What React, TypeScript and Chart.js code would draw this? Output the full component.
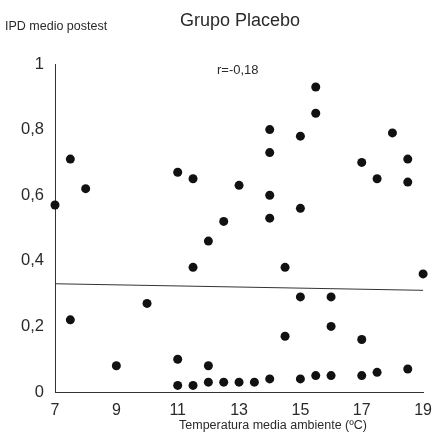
import React, { useEffect, useRef } from "react";
import { Chart, registerables } from "chart.js";

Chart.register(...registerables);

// ---- data ----
const chartTitle = "Grupo Placebo";
const yAxisTitle = "IPD medio postest";
const xAxisTitle = "Temperatura media ambiente (ºC)";
const corrLabel = "r=-0,18";

const pointX = [
  7, 7.5, 7.5, 8, 9, 10, 11, 11, 11.5, 11.5, 12, 12, 12.5, 13, 14, 14, 14, 14,
  14.5, 14.5, 15, 15, 15, 15.5, 15.5, 16, 16, 17, 17, 17.5, 18, 18.5, 18.5, 19,
  11, 11.5, 12, 12.5, 13, 13.5, 14, 15, 15.5, 16, 17, 17.5, 18.5,
];
const pointY = [
  0.57, 0.71, 0.22, 0.62, 0.08, 0.27, 0.67, 0.1, 0.65, 0.38, 0.46, 0.08, 0.52,
  0.63, 0.8, 0.73, 0.6, 0.53, 0.38, 0.17, 0.78, 0.56, 0.29, 0.93, 0.85, 0.29,
  0.2, 0.7, 0.16, 0.65, 0.79, 0.71, 0.64, 0.36,
  0.02, 0.02, 0.03, 0.03, 0.03, 0.03, 0.04, 0.04, 0.05, 0.05, 0.05, 0.06, 0.07,
];

const fitX = [7, 19];
const fitY = [0.33, 0.31];

const xTickValues = [7, 9, 11, 13, 15, 17, 19];
const yTickValues = [0, 0.2, 0.4, 0.6, 0.8, 1];
const yTickLabels = ["0", "0,2", "0,4", "0,6", "0,8", "1"];

const FONT = "'Liberation Sans', Arial, sans-serif";
const TEXT = "#2a2a2a";

const textPlugin = {
  id: "texts",
  afterDraw(chart: any) {
    const ctx = chart.ctx;
    const area = chart.chartArea;
    ctx.save();
    ctx.fillStyle = TEXT;
    ctx.textBaseline = "alphabetic";
    // title
    ctx.font = `18px ${FONT}`;
    ctx.textAlign = "center";
    ctx.fillText(chartTitle, 240, 26);
    // y axis title
    ctx.font = `12.5px ${FONT}`;
    ctx.textAlign = "left";
    ctx.fillText(yAxisTitle, 5, 30);
    // correlation
    ctx.font = `13px ${FONT}`;
    ctx.textAlign = "left";
    ctx.fillText(corrLabel, 217, 74);
    // x axis title
    ctx.font = `12.5px ${FONT}`;
    ctx.textAlign = "center";
    ctx.fillText(xAxisTitle, 273, area.bottom + 37);
    ctx.restore();
  },
};

export default function App() {
  const ref = useRef<HTMLCanvasElement | null>(null);

  useEffect(() => {
    document.body.style.margin = "0";
    const canvas = ref.current;
    if (!canvas) return;
    const chart = new Chart(canvas, {
      type: "scatter",
      data: {
        datasets: [
          {
            type: "line",
            data: fitX.map((x, i) => ({ x, y: fitY[i] })),
            borderColor: "#333",
            borderWidth: 1,
            pointRadius: 0,
            fill: false,
            clip: false as any,
            order: 2,
          } as any,
          {
            type: "scatter",
            data: pointX.map((x, i) => ({ x, y: pointY[i] })),
            backgroundColor: "#111",
            borderColor: "#111",
            pointRadius: 4.5,
            pointHoverRadius: 4.5,
            borderWidth: 0,
            clip: false as any,
            order: 1,
          } as any,
        ],
      },
      options: {
        responsive: false,
        animation: false,
        events: [],
        layout: { padding: { top: 64, right: 11, left: 0, bottom: 0 } },
        plugins: {
          legend: { display: false },
          tooltip: { enabled: false },
          title: { display: false },
        },
        scales: {
          x: {
            type: "linear",
            min: 7,
            max: 19,
            afterFit: (s: any) => {
              s.height = 43;
            },
            afterBuildTicks: (s: any) => {
              s.ticks = xTickValues.map((v) => ({ value: v }));
            },
            grid: { display: false, drawTicks: false },
            border: { display: true, color: "#333", width: 1 },
            ticks: {
              padding: 9,
              color: TEXT,
              font: { family: FONT, size: 16 },
              callback: (v: any) => String(v),
            },
          },
          y: {
            type: "linear",
            min: 0,
            max: 1,
            afterFit: (s: any) => {
              s.width = 55;
            },
            afterBuildTicks: (s: any) => {
              s.ticks = yTickValues.map((v) => ({ value: v }));
            },
            grid: { display: false, drawTicks: false },
            border: { display: true, color: "#333", width: 1 },
            ticks: {
              padding: 11,
              color: TEXT,
              font: { family: FONT, size: 16.5 },
              callback: (_v: any, i: number) => yTickLabels[i],
            },
          },
        },
      },
      plugins: [textPlugin],
    } as any);
    return () => chart.destroy();
  }, []);

  return <canvas ref={ref} width={441} height={435} style={{ display: "block" }} />;
}
